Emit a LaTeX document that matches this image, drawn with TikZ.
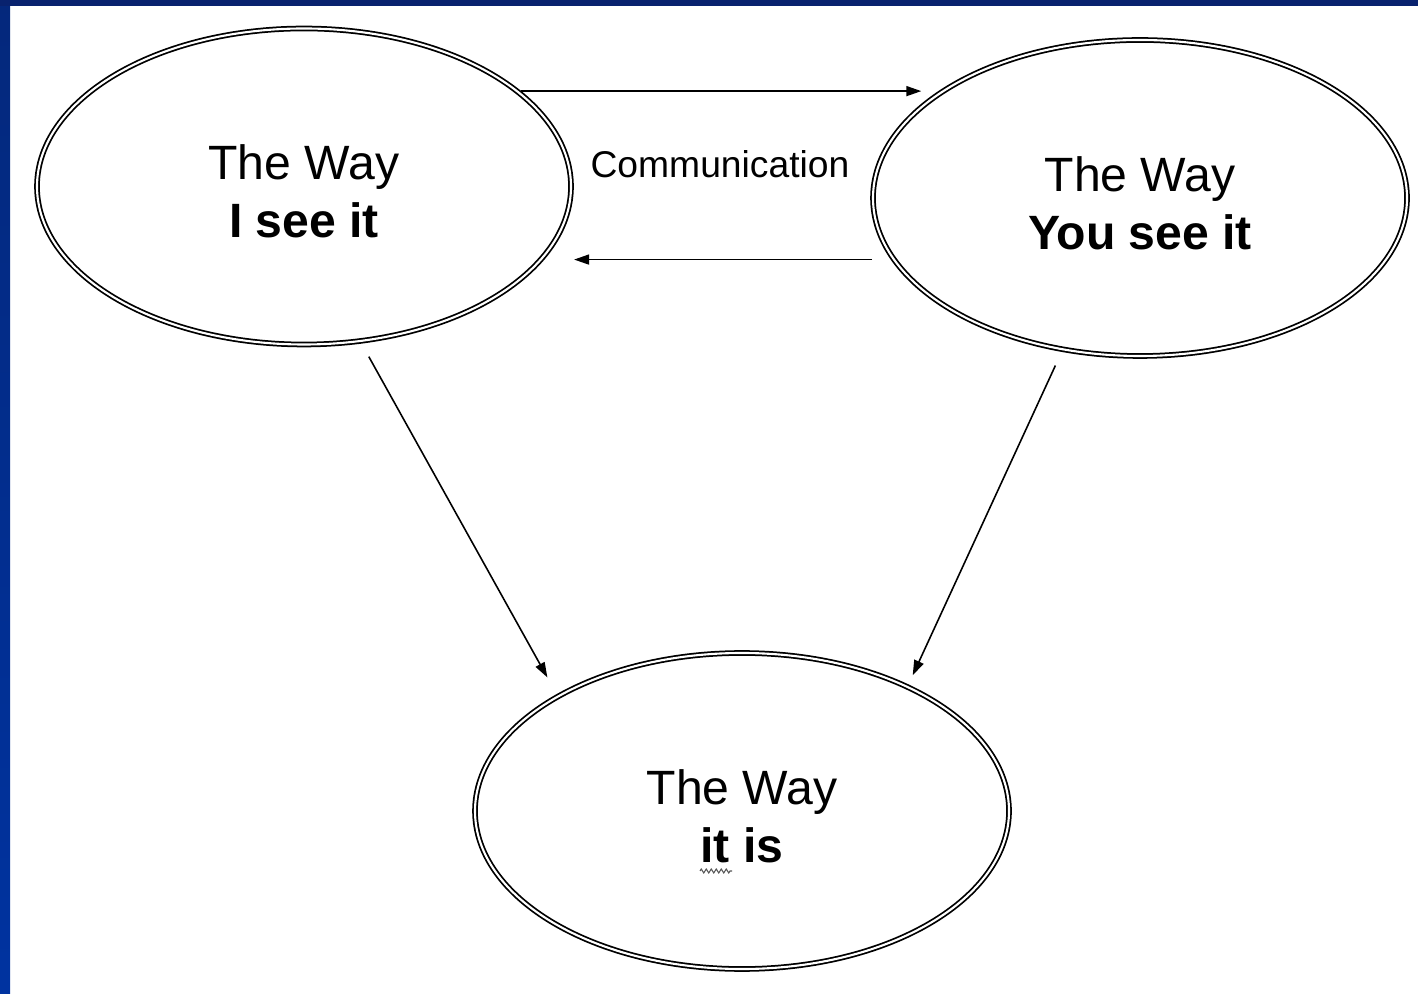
\documentclass[tikz,border=0pt]{standalone}
\usepackage{fontspec}
\setmainfont{Liberation Sans}
\usetikzlibrary{shapes.geometric,arrows.meta,decorations.pathmorphing}
\definecolor{framenavy}{RGB}{8,34,110}
\definecolor{frametop}{RGB}{4,40,124}
\definecolor{framebot}{RGB}{0,51,160}
\newcommand{\lowerby}{\rule{0pt}{12.8pt}}

\begin{document}
\begin{tikzpicture}[>={Triangle[length=1.5mm,width=1mm]}, arr/.style={->,line width=0.45pt},
  view/.style={draw,ellipse,double,line width=0.5pt,double distance=0.6pt,minimum width=5.34cm,minimum height=3.16cm,inner sep=0pt,align=center,font=\fontsize{13.7}{16.5}\selectfont}]
  \useasboundingbox (0,0) rectangle (14.18,9.93);
  \fill[white] (0,0) rectangle (14.18,9.93);
  \shade[top color=frametop,bottom color=framebot] (0,0) rectangle (0.1,9.93);
  \fill[framenavy] (0,9.87) rectangle (14.18,9.93);
  \node[view] (mine) at (3.04,8.065) {\lowerby The Way\\\textbf{I see it}};
  \node[view] (yours) at (11.40,7.95) {\lowerby The Way\\\textbf{You see it}};
  \node[view] (real) at (7.42,1.82) {\lowerby The Way\\\textbf{it is}};
  \node[font=\fontsize{10.6}{12}\selectfont] (comm) at (7.20,8.29) {Communication};
  \draw[arr,shorten <=0.03cm,shorten >=0.23cm](mine.24)--(mine.24 -| yours.151);
  \draw[arr,shorten <=0.21cm,shorten >=0.32cm](yours.194)--(yours.194 -| mine.-17);
  \draw[arr,shorten <=0.17cm,shorten >=0.21cm](mine.-70.9)--(real.148);
  \draw[arr,shorten <=0.17cm,shorten >=0.12cm](yours.-117.5)--(real.37.2);
  \draw[gray!70!black,line width=0.3pt,decorate,decoration={zigzag,amplitude=0.02cm,segment length=0.05cm}] (7.00,1.22)--(7.32,1.22);
\end{tikzpicture}
\end{document}
